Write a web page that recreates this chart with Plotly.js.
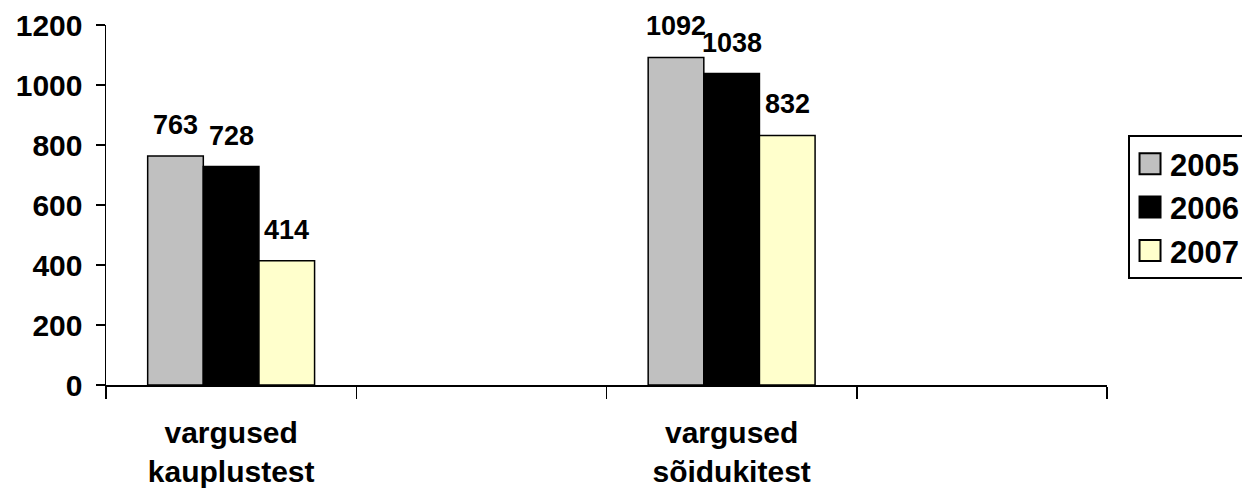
<!DOCTYPE html>
<html>
<head>
<meta charset="utf-8">
<script src="https://cdn.plot.ly/plotly-3.0.1.min.js"></script>
<style>html,body{margin:0;padding:0;background:#fff;}#chart{width:1242px;height:488px;}</style>
</head>
<body>
<div id="chart"></div>
<script>
var categories = ["vargused<br>kauplustest", " ", "vargused<br>sõidukitest", "  "];
var dataCategories = ["vargused<br>kauplustest", "vargused<br>sõidukitest"];
var seriesNames = ["2005", "2006", "2007"];
var values2005 = [763, 1092];
var values2006 = [728, 1038];
var values2007 = [414, 832];
var seriesValues = [values2005, values2006, values2007];
var seriesColors = ["#C0C0C0", "#000000", "#FFFFCC"];

var FONT = "Liberation Sans, Arial, sans-serif";

var traces = seriesNames.map(function (name, i) {
  return {
    type: "bar",
    name: name,
    x: dataCategories,
    y: seriesValues[i],
    legendgroup: "g" + i,
    marker: { color: seriesColors[i], line: { color: "#000000", width: 1.5 } },
    hoverinfo: "skip"
  };
});

// data labels as annotations, offset per series within group
var slotPx = 1001 / 4;
var groupFrac = 0.667;
var barPx = slotPx * groupFrac / 3;
var annotations = [];
seriesNames.forEach(function (name, i) {
  dataCategories.forEach(function (cat, j) {
    annotations.push({
      x: cat, y: seriesValues[i][j], xref: "x", yref: "y",
      text: String(seriesValues[i][j]),
      showarrow: false, xanchor: "center", yanchor: "bottom",
      xshift: (i - 1) * barPx, yshift: 14,
      font: { family: FONT, size: 27, color: "#000", weight: 700 }
    });
  });
});

var layout = {
  width: 1242, height: 488,
  margin: { l: 106, r: 135, t: 25, b: 103, pad: 0, autoexpand: false },
  paper_bgcolor: "#ffffff", plot_bgcolor: "#ffffff",
  barmode: "group", bargap: 0.333, bargroupgap: 0,
  showlegend: true,
  font: { family: FONT, size: 28, color: "#000", weight: 700 },
  xaxis: {
    type: "category",
    categoryorder: "array",
    categoryarray: categories,
    range: [-0.5, 3.5],
    tickson: "boundaries",
    ticks: "outside", ticklen: 12, tickwidth: 1.5, tickcolor: "#000",
    ticklabelstandoff: 20,
    showline: true, linecolor: "#000", linewidth: 1.5,
    showgrid: false, zeroline: false,
    tickfont: { family: FONT, size: 30, color: "#000", weight: 700 },
    fixedrange: true
  },
  yaxis: {
    range: [0, 1200], dtick: 200, tick0: 0,
    ticks: "outside", ticklen: 9, tickwidth: 1.5, tickcolor: "#000",
    ticklabelstandoff: 7,
    showline: true, linecolor: "#000", linewidth: 1.5,
    showgrid: false, zeroline: false,
    tickfont: { family: FONT, size: 30, color: "#000", weight: 700 },
    fixedrange: true
  },
  legend: {
    x: 1.021, xanchor: "left", y: 0.694, yanchor: "top",
    bordercolor: "#000", borderwidth: 2, bgcolor: "#fff",
    font: { family: FONT, size: 31, color: "#000", weight: 700 },
    tracegroupgap: 9, traceorder: "normal"
  },
  annotations: annotations
};

Plotly.newPlot("chart", traces, layout, { displayModeBar: false, staticPlot: true }).then(function (gd) {
  // enlarge legend swatches to match the reference
  var paths = gd.querySelectorAll(".legend .legendpoints path");
  paths.forEach(function (p) {
    var t = p.getAttribute("transform") || "";
    p.setAttribute("transform", t + " scale(1.75)");
    p.style.vectorEffect = "non-scaling-stroke";
    p.style.strokeWidth = "2px";
    p.style.stroke = "#000";
  });
});
</script>
</body>
</html>
